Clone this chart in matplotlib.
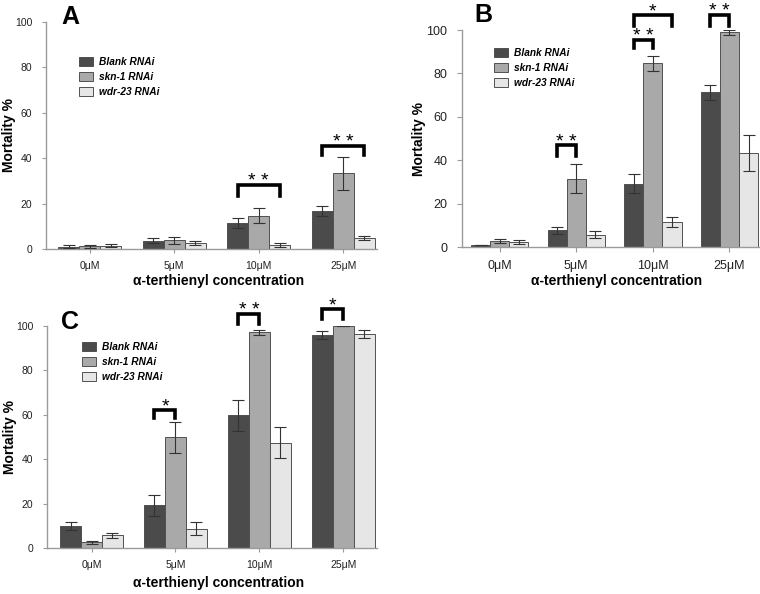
import matplotlib
matplotlib.use("Agg")
import matplotlib.pyplot as plt
from matplotlib.patches import Patch

plt.rcParams['font.family'] = ['Liberation Sans', 'DejaVu Sans']

concs = ["0\u03bcM", "5\u03bcM", "10\u03bcM", "25\u03bcM"]
series_names = ["Blank RNAi", "skn-1 RNAi", "wdr-23 RNAi"]
colors = ["#4b4b4b", "#a9a9a9", "#e6e6e6"]

# panel A
a_blank = [1.1, 3.7, 11.6, 16.9]
a_skn1 = [1.2, 3.8, 14.7, 33.3]
a_wdr23 = [1.5, 2.7, 1.8, 4.8]
a_blank_err = [0.5, 1.2, 2.2, 2.2]
a_skn1_err = [0.6, 1.5, 3.2, 7.3]
a_wdr23_err = [0.8, 1.0, 0.8, 0.8]
# (group, from bar, to bar, bracket top, leg bottom, label)
a_sig = [(2, 0, 2, 28.2, 23.3, "**"), (3, 0, 2, 45.4, 41.4, "**")]

# panel B
b_blank = [0.7, 7.7, 29.2, 71.2]
b_skn1 = [2.8, 31.5, 84.6, 98.9]
b_wdr23 = [2.3, 5.7, 11.5, 43.4]
b_blank_err = [0.0, 1.5, 4.4, 3.3]
b_skn1_err = [1.0, 6.8, 3.5, 1.0]
b_wdr23_err = [0.9, 1.7, 2.2, 8.4]
b_sig = [(1, 0, 1, 46.9, 41.8, "**"), (2, 0, 1, 95.4, 91.5, "**"),
         (2, 0, 2, 106.9, 101.8, "*"), (3, 0, 1, 106.9, 101.8, "**")]

# panel C
c_blank = [10.0, 19.2, 59.7, 96.0]
c_skn1 = [2.5, 49.8, 97.2, 100.0]
c_wdr23 = [5.7, 8.7, 47.5, 96.3]
c_blank_err = [1.9, 4.7, 7.1, 1.8]
c_skn1_err = [0.8, 6.8, 1.2, 0.0]
c_wdr23_err = [1.2, 3.0, 7.1, 1.9]
c_sig = [(1, 0, 1, 62.2, 58.5, "*"), (2, 0, 1, 105.4, 101.0, "**"),
         (3, 0, 1, 107.5, 103.0, "*")]

W, H = 760, 594
fig = plt.figure(figsize=(W / 100, H / 100), dpi=100)


def px_axes(left, right, top, bottom):
    return fig.add_axes([left / W, 1 - bottom / H, (right - left) / W, (bottom - top) / H])


def draw_panel(ax, vals, errs, sig, letter, xleft, big, legend_xy, letter_xy, ylabel_x, xlabel_y):
    tick_fs = 9 if big else 7.5
    for i in range(3):
        xs = [1 + 4 * g + i + 0.5 for g in range(4)]
        ax.bar(xs, vals[i], width=1.0, color=colors[i], edgecolor="#505050", linewidth=0.7, zorder=2)
        ax.errorbar(xs, vals[i], yerr=errs[i], fmt="none", ecolor="#333333",
                    elinewidth=0.8, capsize=4, capthick=0.8, zorder=3)
    ax.set_ylim(0, 100)
    ax.set_xlim(xleft, 16.1)
    for s in ["top", "right"]:
        ax.spines[s].set_visible(False)
    for s in ["left", "bottom"]:
        ax.spines[s].set_color("#9a9a9a")
        ax.spines[s].set_linewidth(1.0)
    ax.set_yticks([0, 20, 40, 60, 80, 100])
    ax.set_xticks([2.5 + 4 * g for g in range(4)])
    ax.set_xticklabels(concs)
    ax.tick_params(axis="both", colors="#9a9a9a", labelcolor="#222222", labelsize=tick_fs,
                   length=3.5 if big else 3, width=0.8)
    ax.tick_params(axis="x", pad=6)
    ax.tick_params(axis="y", pad=7)

    for g, i0, i1, ytop, yleg, lab in sig:
        x0 = 1 + 4 * g + i0 + 0.5
        x1 = 1 + 4 * g + i1 + 0.5
        ax.plot([x0, x0, x1, x1], [yleg, ytop, ytop, yleg], color="black", lw=2.6,
                solid_joinstyle="miter", clip_on=False, zorder=4)
        ax.annotate(lab.replace("**", "* *"), xy=((x0 + x1) / 2, ytop), xytext=(0, -1),
                    textcoords="offset points", ha="center", va="baseline",
                    fontsize=14, annotation_clip=False)

    handles = [Patch(facecolor=colors[i], edgecolor="#505050", linewidth=0.7) for i in range(3)]
    fig.legend(handles, series_names, loc="upper left",
               bbox_to_anchor=(legend_xy[0] / W, 1 - legend_xy[1] / H), frameon=False,
               prop={"weight": "bold", "style": "italic", "size": 7.3},
               handlelength=1.4, handleheight=0.9, handletextpad=0.6, labelspacing=0.5,
               borderpad=0, borderaxespad=0)
    fig.text(letter_xy[0] / W, 1 - letter_xy[1] / H, letter, fontsize=18, fontweight="bold",
             ha="left", va="top")
    pos = ax.get_position()
    fig.text(ylabel_x / W, pos.y0 + pos.height / 2, "Mortality %", rotation=90,
             fontsize=10, fontweight="bold", ha="center", va="center")
    fig.text(pos.x0 + pos.width * 0.52, 1 - xlabel_y / H, "\u03b1-terthienyl concentration",
             fontsize=10, fontweight="bold", ha="center", va="center")


axA = px_axes(46, 377, 22, 249)
draw_panel(axA, [a_blank, a_skn1, a_wdr23], [a_blank_err, a_skn1_err, a_wdr23_err], a_sig,
           "A", 0.43, False, (79, 57), (61, 5), 9, 281)

axB = px_axes(462, 760, 30, 247)
draw_panel(axB, [b_blank, b_skn1, b_wdr23], [b_blank_err, b_skn1_err, b_wdr23_err], b_sig,
           "B", 0.53, True, (494, 48), (474, 3), 419, 281)

axC = px_axes(47, 377, 326, 548)
draw_panel(axC, [c_blank, c_skn1, c_wdr23], [c_blank_err, c_skn1_err, c_wdr23_err], c_sig,
           "C", 0.38, False, (82, 342), (61, 310), 10, 583)

fig.savefig("out.png", dpi=100)
